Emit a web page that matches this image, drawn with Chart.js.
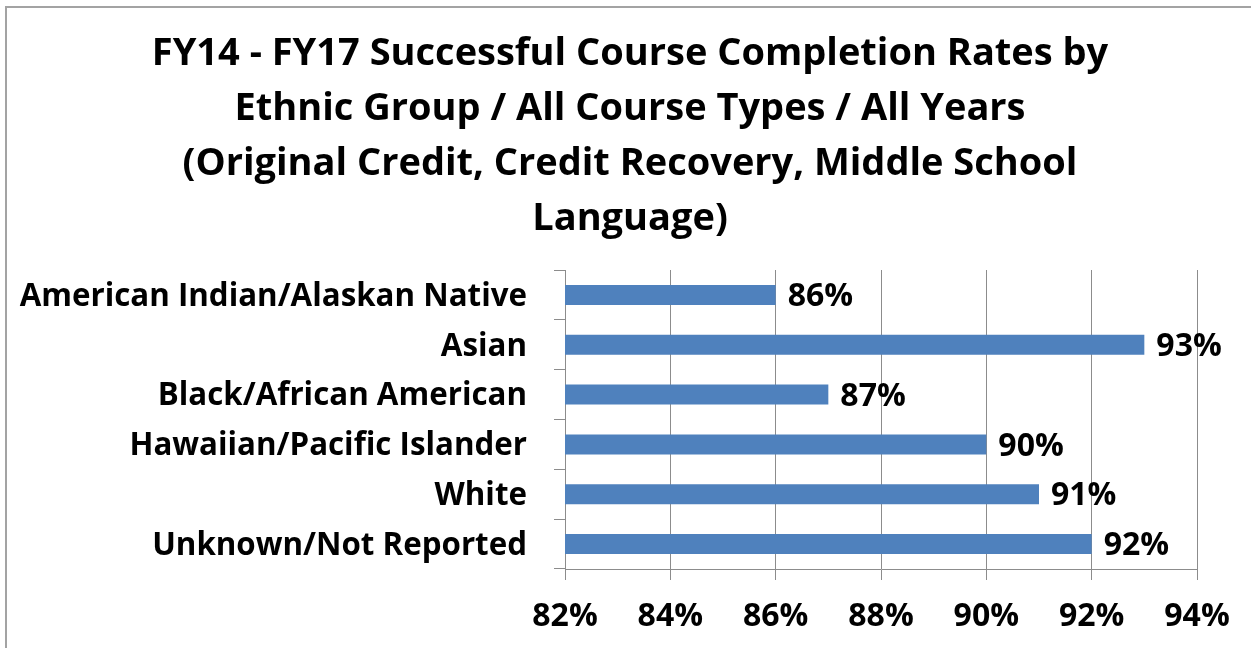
<!DOCTYPE html>
<html>
<head>
<meta charset="utf-8">
<script src="https://cdn.jsdelivr.net/npm/chart.js@4"></script>
<style>
  html, body { margin: 0; padding: 0; background: #fff; overflow: hidden; }
  #frame {
    position: absolute; left: 5px; top: 6px; width: 1400px; height: 800px;
    border-left: 2px solid #a3a3a3; border-top: 2px solid #a3a3a3;
  }
  #chart { position: absolute; left: 0; top: 0; }
</style>
</head>
<body>
<div id="frame"></div>
<canvas id="chart" width="1251" height="648"></canvas>
<script>
// données
const titleLines = [
    'FY14 - FY17 Successful Course Completion Rates by',
    'Ethnic Group / All Course Types / All Years',
    '(Original Credit, Credit Recovery, Middle School',
    'Language)'
];
const groups = [
    'American Indian/Alaskan Native',
    'Asian',
    'Black/African American',
    'Hawaiian/Pacific Islander',
    'White',
    'Unknown/Not Reported'
];
const rates = [86, 93, 87, 90, 91, 92];
const axisMin = 82;
const axisMax = 94;
const axisStep = 2;

const fontFamily = '"Open Sans", Lato, sans-serif';
const gridColor = '#8c8c8c';

// étiquettes de valeur au bout des barres
const valueLabels = {
    id: 'valueLabels',
    afterDatasetsDraw(chart) {
        const ctx = chart.ctx;
        const meta = chart.getDatasetMeta(0);
        ctx.save();
        ctx.font = 'bold 32px ' + fontFamily;
        ctx.fillStyle = '#000';
        ctx.textAlign = 'left';
        ctx.textBaseline = 'middle';
        meta.data.forEach(function(bar, i) {
            ctx.fillText(rates[i] + '%', bar.x + 12, bar.y + 2);
        });
        ctx.restore();
    }
};

const ctx = document.getElementById('chart').getContext('2d');
const chart = new Chart(ctx, {
    type: 'bar',
    data: {
        labels: groups,
        datasets: [{
            data: rates,
            backgroundColor: '#4f81bd',
            borderWidth: 0,
            barPercentage: 0.4,
            categoryPercentage: 1
        }]
    },
    options: {
        indexAxis: 'y',
        responsive: false,
        animation: false,
        devicePixelRatio: 1,
        layout: { padding: { left: 9, right: 0, top: 0, bottom: 0 } },
        scales: {
            x: {
                min: axisMin,
                max: axisMax,
                ticks: {
                    stepSize: axisStep,
                    padding: 18,
                    color: '#000',
                    font: { family: fontFamily, size: 32, weight: 'bold' },
                    callback: function(v) { return v + '%'; }
                },
                grid: { color: gridColor, lineWidth: 1, tickLength: 11 },
                border: { display: true, color: gridColor },
                afterFit: function(scale) {
                    scale.height = 79;
                    scale.paddingRight = 54; // place à droite du graphique
                }
            },
            y: {
                ticks: {
                    padding: 27,
                    labelOffset: 2,
                    color: '#000',
                    font: { family: fontFamily, size: 31.3, weight: 'bold' }
                },
                grid: { drawOnChartArea: false, color: gridColor, tickLength: 11 },
                border: { display: true, color: gridColor },
                afterFit: function(scale) { scale.width = 556; }
            }
        },
        plugins: {
            legend: { display: false },
            tooltip: { enabled: false },
            title: {
                display: true,
                text: titleLines,
                color: '#000',
                font: { family: fontFamily, size: 38, weight: 'bold', lineHeight: '55px' },
                padding: { top: 27, bottom: 23 }
            }
        }
    },
    plugins: [valueLabels]
});
</script>
</body>
</html>
